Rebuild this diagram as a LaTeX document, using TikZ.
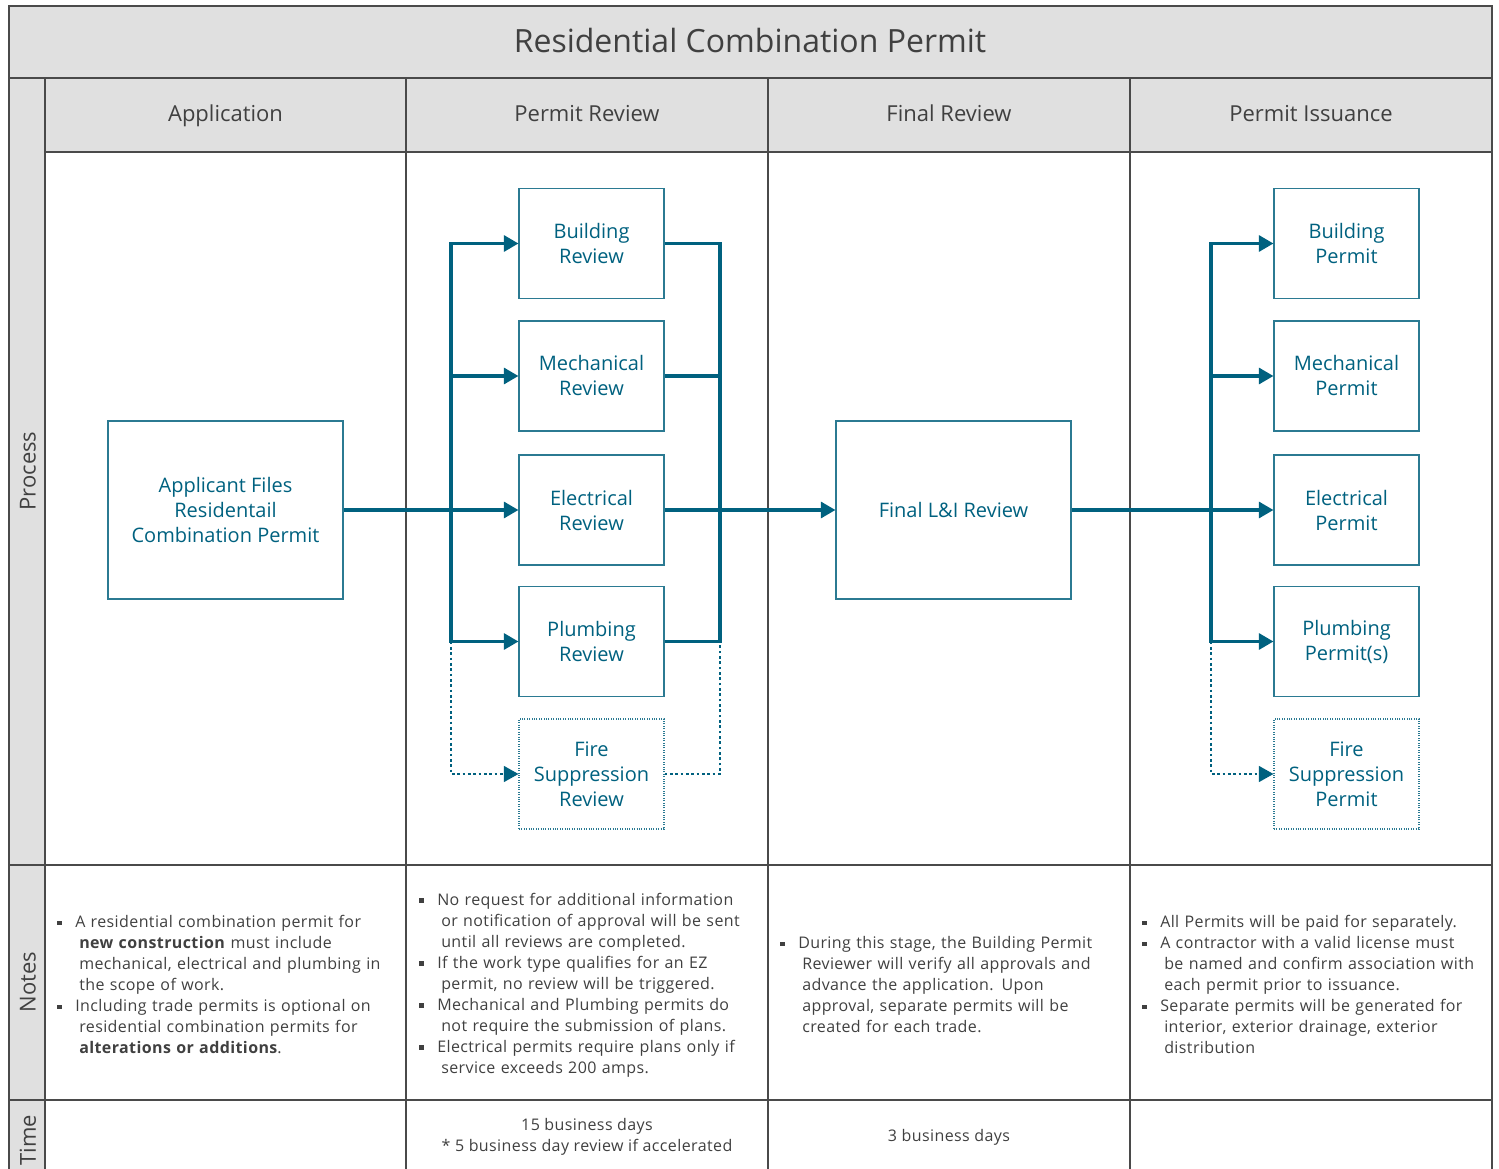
\documentclass[tikz,border=0pt]{standalone}
\usepackage{fontspec}
\setmainfont{Open Sans}
\newfontfamily\notefont[LetterSpace=2.5]{Open Sans}
\usetikzlibrary{arrows.meta}
\definecolor{flowblue}{HTML}{00617F}
\definecolor{boxblue}{HTML}{2B7A92}
\definecolor{gridgray}{HTML}{4A4A4A}
\definecolor{bandgray}{HTML}{E0E0E0}
\definecolor{notegray}{HTML}{404040}
\newcommand\bitem{\par\noindent\hangindent=16.5pt\hangafter=1\makebox[13.5pt][l]{\rule[0.3ex]{3.2pt}{3.2pt}}\ignorespaces}
\begin{document}
\begin{tikzpicture}[x=0.75pt, y=-0.75pt,
	stepbox/.style={draw=boxblue, line width=0.8pt, text=flowblue, align=center, minimum width=108.75pt, minimum height=82.5pt, inner sep=2pt, font=\fontsize{15}{18.75}\selectfont},
	bigbox/.style={stepbox, minimum width=176.25pt, minimum height=133.5pt},
	optbox/.style={stepbox, densely dotted},
	link/.style={draw=flowblue, line width=2.5pt},
	flow/.style={link, -{Triangle[length=11pt,width=12pt]}},
	dlink/.style={draw=flowblue, line width=1.2pt, dash pattern=on 2pt off 2pt},
	dflow/.style={dlink, -{Triangle[length=11pt,width=12pt]}},
	grid/.style={draw=gridgray, line width=0.9pt},
	lane/.style={text=notegray, font=\fontsize{16.5}{20}\selectfont},
	head/.style={lane, text height=1.37em, text depth=0.3em},
	note/.style={anchor=west, inner sep=0pt, text width=285pt, align=left, text=notegray, font=\notefont\fontsize{12}{15.75}\selectfont}]
		\useasboundingbox (0,0) rectangle (1499,1169);
		
		%bands
		\fill[bandgray] (9,6) rectangle (1492,78);
		\fill[bandgray] (9,78) rectangle (45,1175);
		\fill[bandgray] (45,78) rectangle (1492,152);
		\draw[grid] (9,6) rectangle (1492,1175);
		\draw[grid] (9,78) -- (1492,78);
		\draw[grid] (45,78) -- (45,1175);
		\draw[grid] (45,152) -- (1492,152);
		\foreach \x in {406,768,1130}{
			\draw[grid] (\x,78) -- (\x,1175);
		}
		\foreach \y in {865,1100}{
			\draw[grid] (9,\y) -- (1492,\y);
		}
		
		\node[text=notegray, font=\fontsize{24}{28}\selectfont] (title) at (750,41) {Residential Combination Permit};
		\foreach \x/\t [count=\i] in {225.5/Application, 587/Permit Review, 949/Final Review, 1311/Permit Issuance}{
			\node[head] (col\i) at (\x,114) {\t};
		}
		\node[lane, rotate=90] (lane1) at (28,471) {Process};
		\node[lane, rotate=90] (lane2) at (28,982) {Notes};
		\node[lane, rotate=90] (lane3) at (28,1140) {Time};
		
		%process
		\node[bigbox] (app) at (225.5,510) {Applicant Files\\Residentail\\Combination Permit};
		\node[stepbox] (bldR) at (591.5,243.5) {Building\\Review};
		\node[stepbox] (mecR) at (591.5,376) {Mechanical\\Review};
		\node[stepbox] (eleR) at (591.5,510) {Electrical\\Review};
		\node[stepbox] (plmR) at (591.5,641.5) {Plumbing\\Review};
		\node[optbox] (fireR) at (591.5,774) {Fire\\Suppression\\Review};
		\node[bigbox] (final) at (953.5,510) {Final L\&I Review};
		\node[stepbox] (bldP) at (1346.5,243.5) {Building\\Permit};
		\node[stepbox] (mecP) at (1346.5,376) {Mechanical\\Permit};
		\node[stepbox] (eleP) at (1346.5,510) {Electrical\\Permit};
		\node[stepbox] (plmP) at (1346.5,641.5) {Plumbing\\Permit(s)};
		\node[optbox] (fireP) at (1346.5,774) {Fire\\Suppression\\Permit};
		
		\coordinate (lbus) at (451,510);
		\coordinate (rbus) at (720,510);
		\coordinate (pbus) at (1211,510);
		
		\draw[flow] (app) -- (eleR);
		\foreach \n in {bldR,mecR,plmR}{
			\draw[flow] (lbus) |- (\n.west);
			\draw[link] (\n.east) -| (rbus);
		}
		\draw[dflow] (lbus |- plmR.west) |- (fireR.west);
		\draw[dlink] (fireR.east) -| (rbus |- plmR.east);
		\draw[flow] (eleR) -- (final);
		\draw[flow] (final) -- (eleP);
		\foreach \n in {bldP,mecP,plmP}{
			\draw[flow] (pbus) |- (\n.west);
		}
		\draw[dflow] (pbus |- plmP.west) |- (fireP.west);
		
		%notes
		\node[note] (note1) at (57,980) {\bitem A residential combination permit for\newline\textbf{new construction} must include\newline mechanical, electrical and plumbing in\newline the scope of work.
			\bitem Including trade permits is optional on\newline residential combination permits for\newline\textbf{alterations or additions}.\par};
		\node[note] (note2) at (419,980.5) {\bitem No request for additional information\newline or notification of approval will be sent\newline until all reviews are completed.
			\bitem If the work type qualifies for an EZ\newline permit, no review will be triggered.
			\bitem Mechanical and Plumbing permits do\newline not require the submission of plans.
			\bitem Electrical permits require plans only if\newline service exceeds 200 amps.\par};
		\node[note] (note3) at (780,980) {\bitem During this stage, the Building Permit\newline Reviewer will verify all approvals and\newline advance the application. Upon\newline approval, separate permits will be\newline created for each trade.\par};
		\node[note] (note4) at (1142,980) {\bitem All Permits will be paid for separately.
			\bitem A contractor with a valid license must\newline be named and confirm association with\newline each permit prior to issuance.
			\bitem Separate permits will be generated for\newline interior, exterior drainage, exterior\newline distribution\par};
		
		%time
		\node[text=notegray, align=center, font=\notefont\fontsize{12}{15.75}\selectfont] (time2) at (587,1136.5) {15 business days\\* 5 business day review if accelerated};
		\node[text=notegray, font=\notefont\fontsize{12}{15.75}\selectfont] (time3) at (949,1137) {3 business days};
\end{tikzpicture}
\end{document}
